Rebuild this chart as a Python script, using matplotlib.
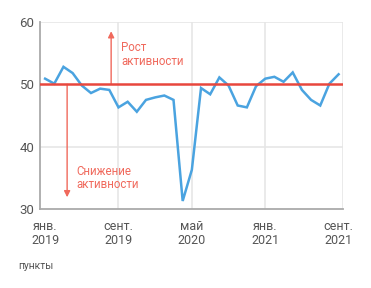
import numpy as np
from matplotlib import pyplot as plt

plt.rcParams['font.family'] = ['Roboto', 'DejaVu Sans']

# PMI, points, Jan 2019 - Sep 2021
months = np.arange(33)
pmi = [50.9, 50.1, 52.8, 51.8, 49.8, 48.6, 49.3, 49.1, 46.3, 47.2, 45.6,
       47.5, 47.9, 48.2, 47.5, 31.3, 36.3, 49.4, 48.4, 51.1, 49.8, 46.6,
       46.3, 49.7, 50.9, 51.2, 50.4, 51.9, 49.1, 47.5, 46.6, 50.1, 51.6]
tick_pos = [0, 8, 16, 24, 32]
tick_labels = ['янв.\n2019', 'сент.\n2019', 'май\n2020', 'янв.\n2021', 'сент.\n2021']
y_ticks = [30, 40, 50, 60]
threshold = 50

grid_col = '#e6e6e6'
text_col = '#555555'
red = '#e8473d'
salmon = '#f0695c'
blue = '#4aa3e0'

fig = plt.figure(figsize=(3.71, 2.88), dpi=100)
ax = fig.add_axes([0.108, 0.274, 0.817, 0.65])

ax.set_xlim(-0.55, 32.5)
ax.set_ylim(30, 60)

for x in [8, 16, 24, 32.5]:
    ax.axvline(x, color=grid_col, lw=1.2, zorder=0)
for y in [40, 60]:
    ax.axhline(y, color=grid_col, lw=1.2, zorder=0)

ax.plot(months, pmi, color=blue, lw=1.8, zorder=3, solid_joinstyle='miter')
ax.axhline(threshold, color=red, lw=1.8, zorder=4)

# arrows
ax.annotate('', xy=(7.2, 58.5), xytext=(7.2, threshold),
            arrowprops=dict(arrowstyle='-|>', color=salmon, lw=1.0,
                            mutation_scale=9, shrinkA=0, shrinkB=0))
ax.text(8.3, 55.9, 'Рост', color=salmon, fontsize=8.3, va='center')
ax.text(8.3, 53.7, 'активности', color=salmon, fontsize=8.3, va='center')
ax.annotate('', xy=(2.4, 31.9), xytext=(2.4, threshold),
            arrowprops=dict(arrowstyle='-|>', color=salmon, lw=1.0,
                            mutation_scale=9, shrinkA=0, shrinkB=0))
ax.text(3.4, 36.0, 'Снижение', color=salmon, fontsize=8.3, va='center')
ax.text(3.4, 33.9, 'активности', color=salmon, fontsize=8.3, va='center')

for s in ['top', 'right']:
    ax.spines[s].set_visible(False)
for s in ['left', 'bottom']:
    ax.spines[s].set_color('#aaaaaa')
    ax.spines[s].set_linewidth(1.3)

ax.set_yticks(y_ticks)
ax.set_xticks(tick_pos)
ax.set_xticklabels(tick_labels, linespacing=1.05)
ax.tick_params(axis='both', length=0, colors=text_col, labelsize=9)
ax.tick_params(axis='y', labelsize=9.5, pad=4)
ax.tick_params(axis='x', pad=8)

fig.text(0.048, 0.075, 'пункты', color=text_col, fontsize=7.5, va='center')

fig.savefig('out.png', dpi=100)
